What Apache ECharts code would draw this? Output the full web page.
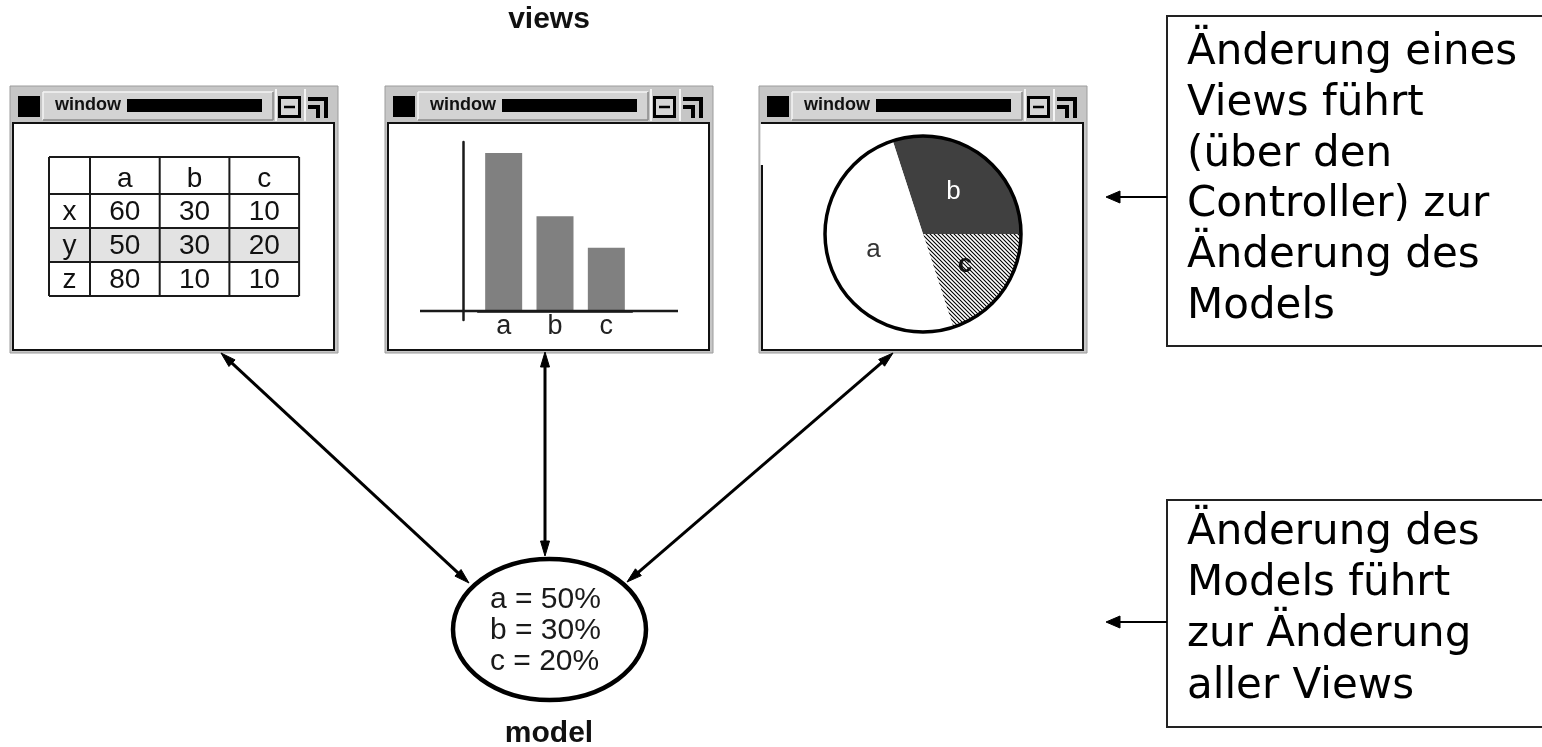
<!DOCTYPE html>
<html><head><meta charset="utf-8">
<script src="https://cdn.jsdelivr.net/npm/echarts@6/dist/echarts.min.js"></script>
<style>html,body{margin:0;padding:0;background:#fff;}#c{width:1542px;height:747px;}</style>
</head><body><div id="c"></div>
<script>
// ---------- data ----------
const viewsTitle = 'views';
const modelTitle = 'model';
const windowTitle = 'window';
const tableColumns = ['a', 'b', 'c'];
const tableRowLabels = ['x', 'y', 'z'];
const tableValues = [[60, 30, 10], [50, 30, 20], [80, 10, 10]];
const highlightedRow = 'y';
const barCategories = ['a', 'b', 'c'];
const barValues = [50, 30, 20];
const pieOrder = ['b', 'c', 'a'];
const modelNames = ['a', 'b', 'c'];
const modelPercents = [50, 30, 20];
const note1Lines = ['Änderung eines', 'Views führt', '(über den', 'Controller) zur', 'Änderung des', 'Models'];
const note2Lines = ['Änderung des', 'Models führt', 'zur Änderung', 'aller Views'];

// ---------- helpers ----------
const SANS = '"Liberation Sans", Arial, Helvetica, sans-serif';
const VER = '"DejaVu Sans", Verdana, sans-serif';
const G = [];
function rect(x, y, w, h, fill, stroke, lw, z) {
  G.push({ type: 'rect', silent: true, z: z || 0, shape: { x, y, width: w, height: h },
    style: { fill: fill || 'transparent', stroke: stroke || null, lineWidth: lw || 0 } });
}
function line(x1, y1, x2, y2, stroke, lw, z) {
  G.push({ type: 'line', silent: true, z: z || 0, shape: { x1, y1, x2, y2 }, style: { stroke, lineWidth: lw } });
}
function poly(points, stroke, lw, z) {
  G.push({ type: 'polyline', silent: true, z: z || 0, shape: { points }, style: { stroke, lineWidth: lw, fill: null } });
}
function text(x, y, t, font, fill, align, z) {
  G.push({ type: 'text', silent: true, z: z || 1, x, y,
    style: { text: t, font, fill: fill || '#111', align: align || 'center', textAlign: align || 'center',
      verticalAlign: 'middle', textVerticalAlign: 'middle' } });
}
function arrowHead(tx, ty, fx, fy, len, hw, z) {
  const dx = tx - fx, dy = ty - fy, L = Math.hypot(dx, dy), ux = dx / L, uy = dy / L;
  const bx = tx - ux * len, by = ty - uy * len;
  G.push({ type: 'polygon', silent: true, z: z || 5,
    shape: { points: [[tx, ty], [bx - uy * hw, by + ux * hw], [bx + uy * hw, by - ux * hw]] },
    style: { fill: '#000', stroke: '#000', lineWidth: 1 } });
}
function dblArrow(x1, y1, x2, y2) {
  const L = Math.hypot(x2 - x1, y2 - y1), ux = (x2 - x1) / L, uy = (y2 - y1) / L, s = 8;
  line(x1 + ux * s, y1 + uy * s, x2 - ux * s, y2 - uy * s, '#000', 3, 5);
  arrowHead(x1, y1, x2, y2, 15, 4.5, 5);
  arrowHead(x2, y2, x1, y1, 15, 4.5, 5);
}

// ---------- windows ----------
function drawWindow(ox, partialLeft) {
  rect(ox, 86, 328, 267, '#c6c6c6', '#9c9c9c', 1);
  rect(ox + 33, 92, 230, 28, '#d3d3d3');
  line(ox + 33, 92, ox + 263, 92, '#f4f4f4', 1.5);
  line(ox + 33, 92, ox + 33, 120, '#f4f4f4', 1.5);
  line(ox + 263, 92, ox + 263, 120, '#8a8a8a', 1.5);
  line(ox + 33, 120, ox + 263, 120, '#8a8a8a', 1.5);
  rect(ox + 8, 96, 22, 21, '#000');
  text(ox + 45, 105, windowTitle, 'bold 18px ' + SANS, '#111', 'left');
  rect(ox + 117, 99, 135, 13, '#000');
  line(ox + 266, 89, ox + 266, 121, '#f4f4f4', 2);
  line(ox + 295, 89, ox + 295, 121, '#f4f4f4', 2);
  rect(ox + 269.5, 97.5, 20, 19, '#d6d6d6', '#000', 3);
  line(ox + 274, 107, ox + 285, 107, '#000', 2.5);
  poly([[ox + 298, 99], [ox + 316, 99], [ox + 316, 118]], '#000', 4);
  poly([[ox + 298, 107], [ox + 308, 107], [ox + 308, 118]], '#000', 4);
  rect(ox + 3, 123, 321, 227, '#fff', '#111', 2);
  if (partialLeft) line(ox + 3, 124, ox + 3, 165, '#ffffff', 3, 1);
}
const winX = [10, 385, 759];
drawWindow(winX[0], false);
drawWindow(winX[1], false);
drawWindow(winX[2], true);

// ---------- table (window 1) ----------
(function () {
  const x0 = 49, y0 = 157, c0w = 41, cw = 69.7, hh = 37, rh = 34;
  const colX = [x0, x0 + c0w];
  for (let i = 1; i <= tableColumns.length; i++) colX.push(x0 + c0w + cw * i);
  const rowY = [y0, y0 + hh];
  for (let i = 1; i <= tableRowLabels.length; i++) rowY.push(y0 + hh + rh * i);
  const hi = tableRowLabels.indexOf(highlightedRow);
  if (hi >= 0) rect(colX[0], rowY[hi + 1], colX[colX.length - 1] - colX[0], rh, '#e3e3e3', null, 0, 1);
  const font = '28px ' + SANS;
  tableColumns.forEach((c, j) => text((colX[j + 1] + colX[j + 2]) / 2, y0 + hh / 2 + 4, c, font));
  tableRowLabels.forEach((r, i) => {
    const cy = rowY[i + 1] + rh / 2 + 1.5;
    text((colX[0] + colX[1]) / 2, cy, r, font);
    tableValues[i].forEach((v, j) => text((colX[j + 1] + colX[j + 2]) / 2, cy, String(v), font));
  });
  colX.forEach(x => line(x, rowY[0], x, rowY[rowY.length - 1], '#1a1a1a', 2, 2));
  rowY.forEach(y => line(colX[0], y, colX[colX.length - 1], y, '#1a1a1a', 2, 2));
})();

// bar chart x-axis baseline (extends past the plot like the original)
line(420, 311, 678, 311, '#1a1a1a', 2.5, 10);

// pie outline
G.push({ type: 'circle', silent: true, z: 10, shape: { cx: 923, cy: 234, r: 98 },
  style: { fill: 'transparent', stroke: '#000', lineWidth: 3.5 } });

// ---------- model ----------
G.push({ type: 'ellipse', silent: true, z: 5, shape: { cx: 549.5, cy: 629.5, rx: 96.5, ry: 70.5 },
  style: { fill: '#fff', stroke: '#000', lineWidth: 4.5 } });
modelNames.forEach((n, i) => text(490, 600 + i * 31, n + ' = ' + modelPercents[i] + '%', '30px ' + SANS, '#1a1a1a', 'left', 6));
text(549, 20, viewsTitle, 'bold 30px ' + SANS, '#111');
text(549, 734, modelTitle, 'bold 30px ' + SANS, '#111');

// arrows
dblArrow(221, 353, 469, 583);
dblArrow(545, 352, 545, 556);
dblArrow(893, 353, 627, 582);

// ---------- notes ----------
rect(1167, 16, 430, 330, '#fff', '#222', 2);
note1Lines.forEach((t, i) => text(1187, 53 + i * 50.8, t, '42px ' + VER, '#000', 'left', 3));
line(1167, 197, 1118, 197, '#000', 2, 3);
arrowHead(1106, 197, 1167, 197, 14, 6, 3);
rect(1167, 500, 430, 227, '#fff', '#222', 2);
note2Lines.forEach((t, i) => text(1187, 533 + i * 51.2, t, '42px ' + VER, '#000', 'left', 3));
line(1167, 622, 1118, 622, '#000', 2, 3);
arrowHead(1106, 622, 1167, 622, 14, 6, 3);

// hatch pattern for slice c
function hatch() {
  const c = document.createElement('canvas'); c.width = 4; c.height = 4;
  const g = c.getContext('2d');
  g.fillStyle = '#fff'; g.fillRect(0, 0, 4, 4);
  g.strokeStyle = '#000'; g.lineWidth = 1.1; g.beginPath();
  g.moveTo(-1, -1); g.lineTo(5, 5); g.moveTo(-1, 3); g.lineTo(1, 5); g.moveTo(3, -1); g.lineTo(5, 1);
  g.stroke(); return c;
}
const sliceStyle = {
  a: { color: '#ffffff', label: { color: '#333' } },
  b: { color: '#404040', label: { color: '#ffffff' } },
  c: { color: { image: hatch(), repeat: 'repeat' }, label: { color: '#111', fontWeight: 'bold' } }
};
const pieData = pieOrder.map(n => {
  const v = modelPercents[modelNames.indexOf(n)];
  return { name: n, value: v, itemStyle: { color: sliceStyle[n].color }, label: sliceStyle[n].label };
});

const chart = echarts.init(document.getElementById('c'));
chart.setOption({
  animation: false,
  backgroundColor: '#fff',
  grid: { left: 478, top: 142, width: 154, height: 178, containLabel: false, outerBoundsMode: 'none' },
  xAxis: {
    type: 'category', data: barCategories, boundaryGap: true,
    axisLine: { show: true, onZero: true, lineStyle: { color: '#1a1a1a', width: 2.5 } },
    axisTick: { show: false },
    axisLabel: { fontSize: 27, fontFamily: SANS, color: '#222', margin: -7 }
  },
  yAxis: {
    type: 'value', min: -2.85, max: 53.5, offset: 15,
    axisLine: { show: true, lineStyle: { color: '#1a1a1a', width: 2.5 } },
    axisTick: { show: false }, axisLabel: { show: false }, splitLine: { show: false }
  },
  series: [
    { type: 'bar', data: barValues, barWidth: 37, itemStyle: { color: '#808080' }, silent: true, z: 3 },
    { type: 'pie', center: [923, 234], radius: 98, startAngle: 108, clockwise: true, silent: true, z: 3,
      data: pieData, itemStyle: { borderWidth: 0 },
      label: { show: true, position: 'inside', formatter: '{b}', fontSize: 26, fontFamily: SANS },
      labelLine: { show: false } }
  ],
  graphic: { elements: G }
});
</script></body></html>
